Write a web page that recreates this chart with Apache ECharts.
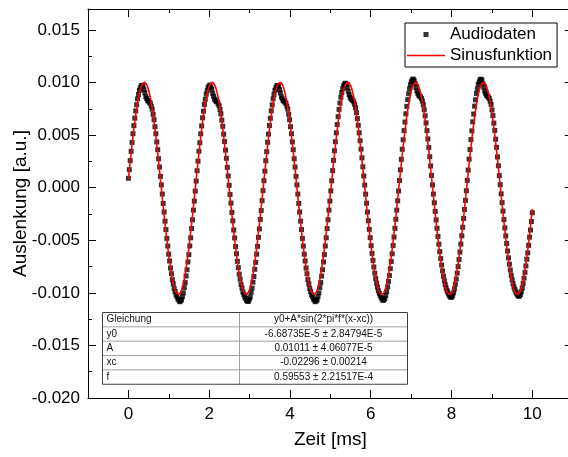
<!DOCTYPE html>
<html>
<head>
<meta charset="utf-8">
<script src="https://cdn.jsdelivr.net/npm/echarts@6/dist/echarts.min.js"></script>
<style>
  html, body { margin: 0; padding: 0; background: #ffffff; }
  #chart { width: 568px; height: 457px; }
</style>
</head>
<body>
<div id="chart"></div>
<script>
// Recorded audio signal, sampled at 44.1 kHz starting at t = 0 ms.
// Deflection values are given in units of 1e-5 a.u.
const sampleRateKHz = 44.1;
const auslenkung = [
  90, 172, 258, 346, 431, 514, 591, 662, 731, 789, 845, 886, 926, 950, 969, 974, 965, 932, 903, 866, 848, 828, 824, 812, 803, 776, 747, 698, 647, 580, 514, 436, 362, 276, 197, 108, 27, -60, -150, -231, -318, -398, -482, -555, -632, -697, -764, -818, -874, -915, -958, -988, -1017, -1035, -1058, -1068, -1084, -1076, -1066, -1036, -1000, -950, -902, -840, -780, -706, -636, -554, -476, -388, -305, -213, -127,
  -32, 63, 162, 253, 347, 428, 513, 588, 665, 728, 792, 841, 890, 922, 954, 966, 977, 960, 937, 898, 870, 843, 832, 820, 817, 798, 780, 743, 702, 643, 584, 510, 440, 358, 280, 193, 112, 23, -64, -146, -235, -315, -402, -478, -559, -628, -700, -760, -822, -870, -919, -954, -992, -1015, -1039, -1053, -1073, -1080, -1080, -1062, -1040, -996, -954, -898, -844, -776, -710, -632, -558, -472, -392, -301, -217, -123,
  -28, 67, 158, 257, 343, 432, 510, 592, 661, 732, 788, 845, 886, 926, 950, 970, 973, 964, 933, 902, 865, 847, 828, 824, 813, 802, 776, 747, 698, 647, 580, 514, 436, 362, 276, 197, 108, 27, -60, -150, -231, -318, -398, -482, -555, -632, -697, -764, -818, -874, -915, -958, -988, -1017, -1035, -1058, -1068, -1084, -1076, -1066, -1036, -1000, -950, -902, -840, -780, -706, -636, -554, -476, -388, -305, -213, -127,
  -30, 66, 163, 260, 352, 438, 522, 601, 676, 745, 806, 860, 906, 942, 970, 987, 994, 981, 953, 918, 886, 862, 847, 838, 831, 816, 793, 760, 714, 658, 594, 522, 447, 367, 284, 199, 112, 25, -61, -147, -231, -314, -396, -475, -551, -624, -691, -754, -812, -863, -908, -946, -980, -1005, -1027, -1045, -1060, -1071, -1067, -1053, -1025, -988, -942, -891, -834, -770, -701, -628, -550, -469, -386, -300, -213, -124,
  -31, 69, 170, 270, 366, 456, 543, 625, 703, 774, 838, 894, 942, 980, 1008, 1026, 1034, 1020, 990, 954, 921, 896, 880, 871, 864, 848, 825, 790, 742, 684, 617, 543, 464, 382, 295, 207, 117, 27, -60, -143, -225, -306, -386, -463, -537, -608, -674, -735, -791, -841, -885, -922, -955, -980, -1001, -1018, -1033, -1043, -1040, -1026, -999, -963, -918, -868, -812, -750, -683, -612, -536, -457, -376, -292, -207, -120,
  -29, 70, 168, 272, 364, 458, 541, 627, 701, 776, 836, 896, 940, 982, 1006, 1028, 1032, 1022, 988, 956, 919, 898, 878, 873, 862, 850, 823, 792, 740, 686, 615, 545, 462, 384, 293, 209, 115, 29, -58, -141, -222, -303, -382, -458, -531, -602, -667, -727, -783, -832, -875, -913, -945, -970, -991, -1008, -1022, -1032, -1030, -1016, -989, -954, -910, -860, -805, -744, -680, -620, -548, -470, -402, -322, -238
];

// Fit result of the sine model (as printed in the result table).
const fitEquation = 'y0+A*sin(2*pi*f*(x-xc))';
const fitParamNames = ['y0', 'A', 'xc', 'f'];
const fitParamValues = ['-6.68735E-5', '0.01011', '-0.02296', '0.59553'];
const fitParamErrors = ['2.84794E-5', '4.06077E-5', '0.00214', '2.21517E-4'];
const fitRange = [0, 10];

// Axis ticks
const xMajorTicks = [0, 2, 4, 6, 8, 10];
const xMinorTicks = [1, 3, 5, 7, 9];
const yMajorTicks = [-0.020, -0.015, -0.010, -0.005, 0.000, 0.005, 0.010, 0.015];
const yMinorTicks = [-0.0175, -0.0125, -0.0075, -0.0025, 0.0025, 0.0075, 0.0125];

const FONT = '"Liberation Sans", Arial, Helvetica, sans-serif';

// Scatter points: [time in ms, deflection]
const audioPoints = auslenkung.map((v, i) => [i / sampleRateKHz, v * 1e-5]);

// Fitted model curve evaluated over the fit range
const p = Object.fromEntries(fitParamNames.map((n, i) => [n, Number(fitParamValues[i])]));
const fitPoints = [];
for (let k = 0; k <= 1000; k++) {
  const x = fitRange[0] + (fitRange[1] - fitRange[0]) * k / 1000;
  fitPoints.push([x, p.y0 + p.A * Math.sin(2 * Math.PI * p.f * (x - p.xc))]);
}

const X_MIN = -1, X_MAX = 11, Y_MIN = -0.020, Y_MAX = 0.017;
const lineStyle = { color: '#000000', width: 1 };

function xAxisDef(position, ticks, len, showLine, labels) {
  return {
    type: 'value', position, min: X_MIN, max: X_MAX,
    axisLine: { show: showLine, onZero: false, lineStyle },
    axisTick: { show: true, inside: true, length: len, customValues: ticks, lineStyle },
    axisLabel: labels ? {
      show: true, customValues: ticks, margin: 8, fontSize: 17, color: '#000',
      fontFamily: FONT, formatter: v => String(v)
    } : { show: false },
    splitLine: { show: false }
  };
}
function yAxisDef(position, ticks, len, showLine, labels) {
  return {
    type: 'value', position, min: Y_MIN, max: Y_MAX,
    axisLine: { show: showLine, onZero: false, lineStyle },
    axisTick: { show: true, inside: true, length: len, customValues: ticks, lineStyle },
    axisLabel: labels ? {
      show: true, customValues: ticks, margin: 8, fontSize: 17, color: '#000',
      fontFamily: FONT, formatter: v => v.toFixed(3)
    } : { show: false },
    splitLine: { show: false }
  };
}

const xAxes = [
  xAxisDef('bottom', xMajorTicks, 8, true, true),
  xAxisDef('bottom', xMinorTicks, 4, false, false),
  xAxisDef('top', xMajorTicks, 8, true, false),
  xAxisDef('top', xMinorTicks, 4, false, false)
];
Object.assign(xAxes[0], {
  name: 'Zeit [ms]', nameLocation: 'middle', nameGap: 32, nameMoveOverlap: false,
  nameTextStyle: { fontSize: 19, color: '#000', fontFamily: FONT }
});
const yAxes = [
  yAxisDef('left', yMajorTicks, 8, true, true),
  yAxisDef('left', yMinorTicks, 4, false, false),
  yAxisDef('right', yMajorTicks, 8, true, false),
  yAxisDef('right', yMinorTicks, 4, false, false)
];
Object.assign(yAxes[0], {
  name: 'Auslenkung [a.u.]', nameLocation: 'middle', nameGap: 58, nameMoveOverlap: false,
  nameTextStyle: { fontSize: 19, color: '#000', fontFamily: FONT }
});

// Result table of the fit, drawn below the curves
const TABLE = { left: 100, top: 310, width: 305, rowH: 14.35, split: 137 };
const tableRows = [['Gleichung', fitEquation]].concat(
  fitParamNames.map((n, i) => [n, fitParamValues[i] + ' \u00b1 ' + fitParamErrors[i]])
);
const tableChildren = [{
  type: 'rect',
  shape: { x: 0, y: 0, width: TABLE.width, height: TABLE.rowH * tableRows.length },
  style: { fill: '#ffffff', stroke: 'none' }
}];
tableRows.forEach((row, r) => {
  const yMid = TABLE.rowH * (r + 0.5);
  if (r > 0) {
    tableChildren.push({
      type: 'line',
      shape: { x1: 0, y1: TABLE.rowH * r, x2: TABLE.width, y2: TABLE.rowH * r },
      style: { stroke: '#a0a0a0', lineWidth: 1 }
    });
  }
  tableChildren.push({
    type: 'text', x: 4, y: yMid,
    style: { text: row[0], fill: '#111', font: '10px ' + FONT, textVerticalAlign: 'middle', textAlign: 'left' }
  });
  tableChildren.push({
    type: 'text', x: TABLE.split + (TABLE.width - TABLE.split) / 2, y: yMid,
    style: { text: row[1], fill: '#111', font: '10px ' + FONT, textVerticalAlign: 'middle', textAlign: 'center' }
  });
});
tableChildren.push({
  type: 'line',
  shape: { x1: TABLE.split, y1: 0, x2: TABLE.split, y2: TABLE.rowH * tableRows.length },
  style: { stroke: '#a0a0a0', lineWidth: 1 }
});
tableChildren.push({
  type: 'rect',
  shape: { x: 0, y: 0, width: TABLE.width, height: TABLE.rowH * tableRows.length },
  style: { fill: 'none', stroke: '#404040', lineWidth: 1 }
});

const chart = echarts.init(document.getElementById('chart'), null, { renderer: 'canvas' });
chart.setOption({
  animation: false,
  backgroundColor: '#ffffff',
  grid: { left: 88, top: 9, width: 484.7, height: 389, outerBoundsMode: 'none', containLabel: false },
  xAxis: xAxes,
  yAxis: yAxes,
  legend: {
    left: 405, top: 23, orient: 'vertical',
    borderColor: '#000', borderWidth: 1, borderRadius: 0,
    padding: [3, 5, 3, 2], itemGap: 4, itemWidth: 38, itemHeight: 5,
    symbolKeepAspect: true,
    textStyle: { fontSize: 17, color: '#000', fontFamily: FONT },
    data: [
      { name: 'Audiodaten', icon: 'path://M0,0H10V10H0Z' },
      { name: 'Sinusfunktion', icon: 'path://M0,0H38V1.6H0Z' }
    ]
  },
  series: [
    {
      name: 'Audiodaten', type: 'scatter', data: audioPoints,
      symbol: 'rect', symbolSize: 5,
      itemStyle: { color: '#000000' }, z: 2
    },
    {
      name: 'Sinusfunktion', type: 'line', data: fitPoints,
      symbol: 'none', showSymbol: false,
      lineStyle: { color: '#ff0000', width: 1.6 },
      itemStyle: { color: '#ff0000' }, z: 3
    }
  ],
  graphic: [{ type: 'group', left: TABLE.left, top: TABLE.top, children: tableChildren }]
});
</script>
</body>
</html>
